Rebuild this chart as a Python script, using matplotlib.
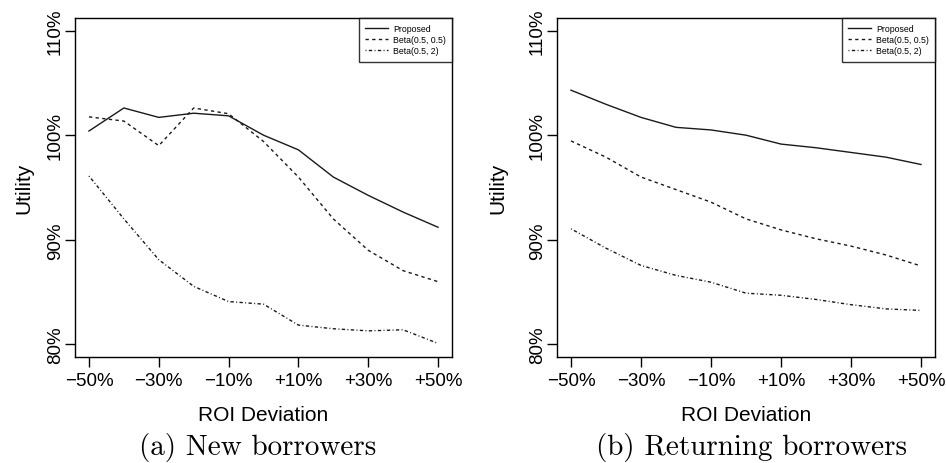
import matplotlib
matplotlib.use('Agg')
import matplotlib.pyplot as plt

plt.rcParams['font.family'] = ['Liberation Sans', 'DejaVu Sans']
plt.rcParams['axes.linewidth'] = 1.0

roi = [-50, -40, -30, -20, -10, 0, 10, 20, 30, 40, 50]
xtick_vals = [-50, -30, -10, 10, 30, 50]
xtick_labels = ['\u221250%', '\u221230%', '\u221210%', '+10%', '+30%', '+50%']
ytick_vals = [80, 90, 100, 110]
ytick_labels = ['80%', '90%', '100%', '110%']

# (a) new borrowers
new_proposed = [100.4, 102.6, 101.7, 102.1, 101.85, 100.0, 98.6, 96.0, 94.25, 92.65, 91.2]
new_beta55 = [101.75, 101.35, 99.0, 102.6, 102.05, 99.4, 96.0, 92.0, 89.0, 87.05, 86.0]
new_beta52 = [96.1, 92.0, 88.1, 85.55, 84.1, 83.85, 81.85, 81.5, 81.3, 81.4, 80.1]

# (b) returning borrowers
ret_proposed = [104.3, 102.95, 101.7, 100.75, 100.5, 100.0, 99.15, 98.8, 98.35, 97.9, 97.2]
ret_beta55 = [99.45, 97.9, 96.0, 94.8, 93.6, 92.0, 90.95, 90.1, 89.4, 88.55, 87.5]
ret_beta52 = [91.05, 89.2, 87.55, 86.6, 85.95, 84.9, 84.7, 84.3, 83.8, 83.4, 83.25]

names = ['Proposed', 'Beta(0.5, 0.5)', 'Beta(0.5, 2)']
captions = ['(a) New borrowers', '(b) Returning borrowers']

fig = plt.figure(figsize=(9.46, 4.64), dpi=100)
ax1 = fig.add_axes([75 / 946, 106 / 464, 377 / 946, 339 / 464])
ax2 = fig.add_axes([557 / 946, 106 / 464, 378 / 946, 339 / 464])

styles = [dict(ls='-'), dict(ls=(0, (2.4, 2.4))), dict(ls=(0, (0.7, 1.7, 2.4, 1.7)))]

for ax, series, ylx in [(ax1, [new_proposed, new_beta55, new_beta52], -0.111),
                        (ax2, [ret_proposed, ret_beta55, ret_beta52], -0.130)]:
    for s, st, nm in zip(series, styles, names):
        ax.plot(roi, s, color='#1a1a1a', lw=1.0, label=nm, **st)
    ax.set_xlim(-54, 54)
    ax.set_ylim(78.8, 111.2)
    ax.set_xticks(xtick_vals)
    ax.set_xticklabels(xtick_labels, fontsize=13.5)
    ax.set_yticks(ytick_vals)
    ax.set_yticklabels(ytick_labels, fontsize=13.5, rotation=90, va='center')
    ax.tick_params(direction='out', length=7, width=1, pad=4)
    ax.tick_params(axis='y', pad=1)
    ax.set_xlabel('ROI Deviation', fontsize=15)
    ax.set_ylabel('Utility', fontsize=15)
    ax.xaxis.set_label_coords(0.5, -0.143)
    ax.yaxis.set_label_coords(ylx, 0.5)
    leg = ax.legend(loc='upper right', fontsize=6.3, frameon=True, fancybox=False,
                    borderaxespad=0, handlelength=2.6, handletextpad=0.6,
                    labelspacing=0.25, borderpad=0.7)
    leg.get_frame().set_edgecolor('black')
    leg.get_frame().set_linewidth(1.0)

fig.text(258 / 946, 1 - 448 / 464, captions[0], fontsize=21, family='cmr10',
         ha='center', va='center')
fig.text(751 / 946, 1 - 448 / 464, captions[1], fontsize=21, family='cmr10',
         ha='center', va='center')

fig.savefig('out.png', dpi=100)
